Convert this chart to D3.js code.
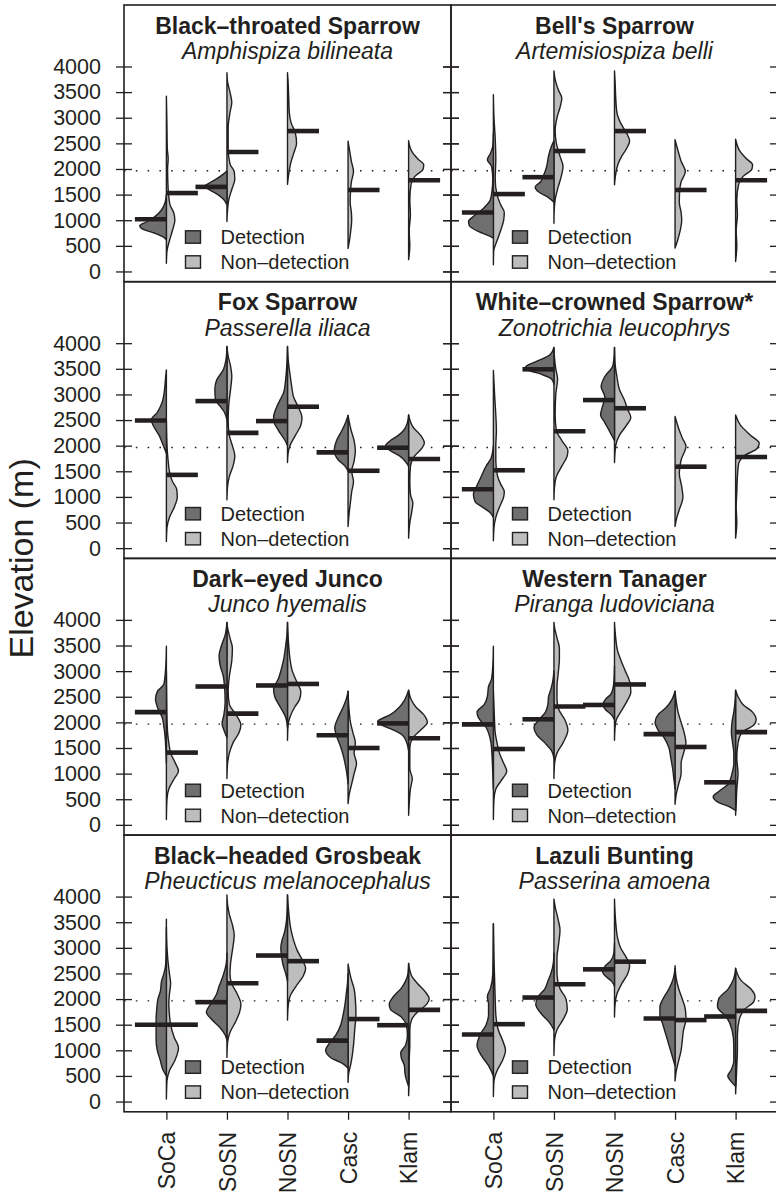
<!DOCTYPE html>
<html>
<head>
<meta charset="utf-8">
<script src="https://cdn.jsdelivr.net/npm/d3@7"></script>
<style>
  body { margin: 0; background: #fff; }
  svg { display: block; }
  text { font-family: "Liberation Sans", Arial, Helvetica, sans-serif; fill: #231f20; }
</style>
</head>
<body>
<svg id="chart" width="776" height="1195"></svg>
<script>
// ---- data ----------------------------------------------------------------
const regions = ["SoCa", "SoSN", "NoSN", "Casc", "Klam"];
const commonNames = ["Black–throated Sparrow", "Bell's Sparrow", "Fox Sparrow", "White–crowned Sparrow*",
  "Dark–eyed Junco", "Western Tanager", "Black–headed Grosbeak", "Lazuli Bunting"];
const latinNames = ["Amphispiza bilineata", "Artemisiospiza belli", "Passerella iliaca", "Zonotrichia leucophrys",
  "Junco hyemalis", "Piranga ludoviciana", "Pheucticus melanocephalus", "Passerina amoena"];
const elevTicks = [0, 500, 1000, 1500, 2000, 2500, 3000, 3500, 4000];
const referenceElevation = 1965;
const legendLabels = ["Detection", "Non–detection"];

// median elevation (m) of sites, per species x region
const detMedians = [
  [1020, 1650, null, null, null],
  [1150, 1840, null, null, null],
  [2490, 2870, 2480, 1870, 1960],
  [1150, 3490, 2890, null, null],
  [2200, 2700, 2720, 1750, 1980],
  [1960, 2060, 2340, 1770, 830],
  [1500, 1940, 2850, 1190, 1490],
  [1310, 2030, 2580, 1620, 1660]
];
const nonMedians = [
  [1530, 2330, 2740, 1590, 1780],
  [1510, 2350, 2740, 1590, 1780],
  [1430, 2250, 2760, 1510, 1740],
  [1520, 2280, 2730, 1590, 1780],
  [1410, 2170, 2750, 1500, 1690],
  [1480, 2310, 2740, 1520, 1810],
  [1500, 2310, 2740, 1610, 1790],
  [1510, 2290, 2730, 1590, 1770]
];

// density profiles: [elevation (m), half-width (region units)], one per region
const btspDet = [
  [[620,0],[680,0.06],[750,0.2],[830,0.4],[890,0.44],[960,0.34],[1070,0.19],[1200,0.08],[1350,0.02],[1500,0]],
  [[1300,0],[1400,0.05],[1500,0.15],[1600,0.3],[1660,0.38],[1720,0.3],[1800,0.18],[1900,0.06],[1960,0]],
  [], [], []
];
const btspNon = [
  [[160,0],[400,0.01],[600,0.05],[800,0.1],[1000,0.14],[1150,0.12],[1300,0.06],[1600,0.03],[2000,0.02],[2200,0.03],[2400,0.015],[2800,0.01],[3420,0]],
  [[975,0],[1200,0.01],[1400,0.03],[1600,0.08],[1800,0.13],[1950,0.12],[2100,0.05],[2400,0.02],[2800,0.02],[3100,0.05],[3300,0.08],[3500,0.05],[3700,0.01],[3880,0]],
  [[1700,0],[1900,0.02],[2100,0.05],[2300,0.1],[2500,0.15],[2700,0.13],[2900,0.06],[3100,0.03],[3400,0.02],[3700,0.01],[3880,0]],
  [[450,0],[600,0.023],[800,0.045],[1000,0.06],[1150,0.055],[1350,0.035],[1550,0.04],[1750,0.055],[1950,0.09],[2150,0.055],[2350,0.027],[2540,0]],
  [[230,0],[500,0.02],[800,0.01],[1100,0.03],[1400,0.02],[1700,0.04],[1850,0.1],[2000,0.24],[2080,0.25],[2200,0.15],[2350,0.05],[2550,0]]
];
const bespDet = [
  [[650,0],[700,0.08],[780,0.25],[900,0.4],[980,0.41],[1100,0.3],[1250,0.15],[1400,0.05],[1600,0.02],[1800,0.01],[2050,0.03],[2180,0.1],[2300,0.05],[2450,0.01],[2700,0]],
  [[1350,0],[1450,0.1],[1550,0.25],[1650,0.31],[1750,0.22],[1850,0.18],[2050,0.12],[2250,0.09],[2450,0.04],[2550,0]],
  [], [], []
];
const bespNon = [
  [[130,0],[400,0.005],[600,0.06],[800,0.12],[1000,0.17],[1150,0.18],[1300,0.12],[1500,0.06],[1800,0.03],[2200,0.04],[2600,0.03],[3000,0.01],[3450,0]],
  [[940,0],[1200,0.005],[1400,0.02],[1650,0.07],[1850,0.12],[2050,0.15],[2250,0.1],[2500,0.04],[2750,0.02],[3000,0.05],[3200,0.1],[3380,0.13],[3550,0.07],[3750,0.02],[3915,0]],
  [[1690,0],[1900,0.02],[2100,0.06],[2250,0.12],[2400,0.2],[2550,0.25],[2700,0.2],[2900,0.1],[3100,0.04],[3400,0.02],[3700,0.01],[3915,0]],
  [[455,0],[600,0.04],[800,0.085],[1000,0.11],[1150,0.1],[1350,0.07],[1550,0.075],[1750,0.1],[1950,0.17],[2150,0.1],[2350,0.05],[2570,0]],
  [[195,0],[500,0.02],[800,0.01],[1100,0.03],[1400,0.02],[1700,0.05],[1850,0.12],[2000,0.27],[2080,0.28],[2200,0.18],[2350,0.07],[2580,0]]
];
const fospDet = [
  [[1850,0],[2000,0.05],[2200,0.12],[2400,0.22],[2500,0.25],[2650,0.15],[2850,0.07],[3100,0.03],[3300,0.015],[3480,0]],
  [[2500,0],[2650,0.04],[2780,0.12],[2900,0.19],[3100,0.2],[3280,0.17],[3480,0.06],[3650,0.02],[3800,0.005],[3935,0]],
  [[2000,0],[2100,0.04],[2300,0.15],[2450,0.22],[2550,0.23],[2750,0.18],[2900,0.12],[3050,0.06],[3300,0.03],[3600,0.01],[3935,0]],
  [[1500,0],[1600,0.05],[1720,0.16],[1900,0.23],[2100,0.19],[2300,0.1],[2450,0.04],[2589,0]],
  [[1600,0],[1700,0.06],[1800,0.15],[1900,0.3],[2000,0.38],[2100,0.3],[2200,0.17],[2300,0.08],[2450,0.02],[2600,0]]
];
const fospNon = [
  [[130,0],[400,0.01],[600,0.05],[800,0.13],[1000,0.18],[1150,0.17],[1300,0.1],[1500,0.05],[1700,0.03],[1900,0.015],[2200,0.005],[2500,0]],
  [[943,0],[1200,0.01],[1400,0.04],[1600,0.1],[1800,0.13],[2000,0.09],[2200,0.04],[2500,0.02],[2800,0.03],[3100,0.06],[3350,0.08],[3550,0.06],[3750,0.02],[3935,0]],
  [[1670,0],[1850,0.01],[2000,0.04],[2200,0.13],[2400,0.22],[2550,0.24],[2750,0.18],[2950,0.1],[3150,0.07],[3400,0.04],[3700,0.01],[3935,0]],
  [[423,0],[700,0.02],[900,0.04],[1100,0.06],[1300,0.09],[1500,0.06],[1700,0.1],[1900,0.12],[2100,0.1],[2300,0.05],[2589,0]],
  [[195,0],[500,0.02],[700,0.05],[880,0.07],[1050,0.03],[1300,0.02],[1600,0.03],[1800,0.1],[1950,0.22],[2050,0.26],[2200,0.2],[2350,0.08],[2600,0]]
];
const wcspDet = [
  [[600,0],[700,0.06],[800,0.18],[900,0.3],[1050,0.33],[1200,0.28],[1350,0.22],[1600,0.12],[1750,0.04],[1900,0.01],[2000,0]],
  [[3200,0],[3300,0.04],[3400,0.22],[3500,0.48],[3560,0.45],[3650,0.28],[3780,0.06],[3915,0]],
  [[2100,0],[2280,0.08],[2470,0.17],[2600,0.23],[2800,0.19],[2950,0.16],[3150,0.22],[3350,0.16],[3550,0.03],[3700,0.01],[3915,0]],
  [], []
];
const wcspNon = [
  [[143,0],[400,0.01],[600,0.04],[800,0.1],[1000,0.17],[1100,0.18],[1250,0.12],[1400,0.07],[1700,0.04],[2000,0.04],[2300,0.05],[2600,0.04],[3000,0.02],[3467,0]],
  [[943,0],[1200,0.01],[1400,0.04],[1600,0.13],[1800,0.22],[1900,0.23],[2100,0.13],[2300,0.04],[2600,0.02],[3000,0.03],[3300,0.06],[3500,0.03],[3700,0.01],[3915,0]],
  [[1672,0],[2000,0.02],[2200,0.08],[2400,0.2],[2550,0.27],[2700,0.22],[2900,0.16],[3100,0.08],[3350,0.04],[3600,0.01],[3915,0]],
  [[423,0],[600,0.03],[750,0.07],[1000,0.13],[1200,0.11],[1460,0.07],[1720,0.1],[1990,0.18],[2150,0.12],[2300,0.07],[2569,0]],
  [[195,0],[500,0.02],[800,0.01],[1100,0.02],[1400,0.03],[1650,0.05],[1800,0.14],[1950,0.36],[2050,0.39],[2200,0.25],[2400,0.08],[2600,0]]
];
const dejuDet = [
  [[1200,0],[1500,0.01],[1700,0.02],[1900,0.04],[2100,0.07],[2300,0.15],[2450,0.18],[2600,0.15],[2750,0.04],[3100,0.01],[3485,0]],
  [[1700,0],[1850,0.05],[1980,0.08],[2150,0.05],[2400,0.03],[2700,0.04],[2900,0.06],[3100,0.11],[3300,0.13],[3500,0.09],[3700,0.03],[3952,0]],
  [[1900,0],[2100,0.03],[2300,0.12],[2500,0.21],[2650,0.23],[2850,0.15],[3050,0.1],[3250,0.06],[3500,0.03],[3700,0.01],[3952,0]],
  [[800,0],[1000,0.02],[1200,0.05],[1400,0.09],[1550,0.13],[1700,0.18],[1900,0.22],[2100,0.16],[2300,0.08],[2450,0.03],[2606,0]],
  [[1450,0],[1600,0.03],[1750,0.1],[1850,0.25],[1950,0.45],[2020,0.51],[2150,0.3],[2300,0.15],[2450,0.06],[2626,0]]
];
const dejuNon = [
  [[103,0],[500,0.01],[700,0.04],[900,0.13],[1050,0.2],[1200,0.15],[1400,0.07],[1600,0.04],[1800,0.02],[2100,0.01],[2500,0.005],[3000,0]],
  [[903,0],[1200,0.01],[1400,0.04],[1600,0.1],[1800,0.2],[1950,0.23],[2150,0.15],[2350,0.04],[2600,0.02],[2900,0.04],[3200,0.08],[3450,0.09],[3650,0.05],[3850,0.01],[3952,0]],
  [[1650,0],[1950,0.01],[2100,0.04],[2300,0.12],[2450,0.2],[2600,0.22],[2800,0.15],[3000,0.08],[3250,0.04],[3500,0.02],[3800,0.005],[3952,0]],
  [[415,0],[600,0.02],[800,0.06],[1000,0.1],[1200,0.14],[1400,0.1],[1600,0.12],[1800,0.08],[2000,0.04],[2200,0.02],[2606,0]],
  [[187,0],[400,0.01],[700,0.03],[900,0.06],[1100,0.02],[1500,0.02],[1700,0.07],[1850,0.2],[2000,0.31],[2150,0.25],[2300,0.12],[2450,0.04],[2626,0]]
];
const wetaDet = [
  [[700,0],[1000,0.01],[1300,0.02],[1600,0.04],[1900,0.12],[2100,0.25],[2200,0.27],[2350,0.15],[2500,0.1],[2700,0.08],[2850,0.03],[3100,0.01],[3485,0]],
  [[1300,0],[1450,0.04],[1600,0.15],[1750,0.28],[1900,0.33],[2050,0.25],[2200,0.14],[2350,0.1],[2500,0.09],[2650,0.05],[2800,0.02],[3000,0]],
  [[2050,0],[2150,0.05],[2250,0.15],[2350,0.19],[2450,0.15],[2550,0.06],[2700,0.02],[2900,0.005],[3100,0]],
  [[700,0],[900,0.02],[1100,0.04],[1300,0.07],[1500,0.1],[1700,0.18],[1850,0.28],[2000,0.33],[2150,0.28],[2300,0.14],[2450,0.05],[2606,0]],
  [[280,0],[350,0.1],[450,0.3],[550,0.37],[650,0.28],[800,0.12],[1000,0.06],[1200,0.03],[1400,0.03],[1600,0.05],[1800,0.07],[2000,0.06],[2200,0.03],[2400,0.01],[2626,0]]
];
const wetaNon = [
  [[103,0],[500,0.01],[700,0.04],[850,0.12],[1050,0.22],[1200,0.17],[1400,0.1],[1600,0.06],[1800,0.03],[2000,0.02],[2300,0.01],[2600,0]],
  [[903,0],[1200,0.01],[1400,0.05],[1600,0.15],[1850,0.23],[2050,0.18],[2250,0.08],[2450,0.05],[2700,0.05],[2950,0.07],[3250,0.09],[3450,0.09],[3650,0.05],[3850,0.01],[3952,0]],
  [[1650,0],[1900,0.01],[2050,0.03],[2200,0.1],[2400,0.2],[2600,0.27],[2800,0.25],[3000,0.18],[3200,0.11],[3400,0.05],[3650,0.02],[3952,0]],
  [[402,0],[600,0.02],[800,0.06],[1000,0.1],[1200,0.1],[1400,0.14],[1600,0.18],[1800,0.15],[2000,0.1],[2200,0.05],[2400,0.02],[2606,0]],
  [[187,0],[400,0.01],[700,0.02],[1000,0.04],[1300,0.02],[1600,0.04],[1800,0.1],[1950,0.3],[2050,0.34],[2200,0.28],[2350,0.12],[2500,0.04],[2626,0]]
];
const bhgrDet = [
  [[500,0],[600,0.05],[800,0.1],[1000,0.15],[1200,0.17],[1400,0.17],[1600,0.17],[1800,0.16],[2000,0.14],[2150,0.1],[2350,0.08],[2500,0.04],[2700,0.01],[3100,0.003],[3561,0]],
  [[1200,0],[1300,0.03],[1450,0.12],[1600,0.25],[1750,0.34],[1900,0.27],[2100,0.17],[2250,0.13],[2400,0.08],[2550,0.04],[2700,0.01],[2900,0]],
  [[2350,0],[2500,0.03],[2650,0.07],[2850,0.1],[3000,0.11],[3150,0.09],[3300,0.05],[3500,0.02],[3750,0.005],[4030,0]],
  [[650,0],[750,0.1],[850,0.28],[1000,0.37],[1150,0.3],[1300,0.2],[1500,0.12],[1700,0.08],[1900,0.05],[2100,0.03],[2300,0.01],[2500,0]],
  [[300,0],[400,0.03],[550,0.06],[700,0.07],[850,0.12],[950,0.13],[1100,0.05],[1300,0.02],[1500,0.04],[1650,0.12],[1800,0.3],[1900,0.32],[2050,0.25],[2200,0.13],[2350,0.05],[2500,0.01],[2696,0]]
];
const bhgrNon = [
  [[49,0],[400,0.01],[600,0.05],[800,0.14],[1050,0.2],[1250,0.13],[1500,0.07],[1700,0.05],[1900,0.04],[2100,0.05],[2300,0.07],[2500,0.05],[2700,0.03],[3000,0.01],[3400,0]],
  [[862,0],[1150,0.01],[1350,0.05],[1550,0.14],[1750,0.21],[1900,0.23],[2100,0.17],[2300,0.08],[2500,0.05],[2700,0.06],[2950,0.09],[3250,0.12],[3450,0.09],[3650,0.04],[3850,0.01],[4030,0]],
  [[1590,0],[1850,0.01],[2050,0.04],[2250,0.14],[2450,0.26],[2600,0.3],[2750,0.25],[2950,0.16],[3150,0.1],[3400,0.05],[3700,0.02],[4030,0]],
  [[374,0],[550,0.01],[700,0.04],[900,0.07],[1100,0.09],[1400,0.11],[1700,0.13],[2000,0.12],[2200,0.1],[2400,0.05],[2683,0]],
  [[115,0],[500,0.01],[800,0.01],[1100,0.02],[1400,0.02],[1600,0.05],[1750,0.15],[1900,0.3],[2000,0.34],[2150,0.27],[2300,0.15],[2450,0.05],[2696,0]]
];
const lazbDet = [
  [[500,0],[700,0.08],[900,0.2],[1100,0.27],[1300,0.22],[1500,0.12],[1700,0.08],[1900,0.08],[2050,0.1],[2200,0.05],[2500,0.01],[3470,0]],
  [[1400,0],[1550,0.08],[1700,0.2],[1900,0.3],[2050,0.26],[2200,0.15],[2350,0.1],[2500,0.05],[2700,0.01],[2900,0]],
  [[2250,0],[2350,0.05],[2450,0.15],[2550,0.2],[2650,0.15],[2750,0.06],[2900,0.01],[3100,0]],
  [[700,0],[900,0.05],[1100,0.1],[1300,0.15],[1500,0.2],[1700,0.25],[1850,0.25],[2000,0.2],[2200,0.1],[2400,0.03],[2600,0]],
  [[300,0],[400,0.08],[500,0.13],[600,0.08],[800,0.03],[1100,0.03],[1400,0.06],[1650,0.15],[1850,0.3],[2000,0.28],[2200,0.12],[2400,0.03],[2600,0]]
];
const lazbNon = [
  [[100,0],[400,0.01],[600,0.06],[800,0.15],[1000,0.2],[1200,0.15],[1400,0.08],[1700,0.04],[2000,0.03],[2400,0.02],[2800,0.01],[3470,0]],
  [[900,0],[1200,0.01],[1400,0.05],[1600,0.15],[1800,0.22],[2000,0.2],[2200,0.1],[2500,0.05],[2800,0.05],[3100,0.08],[3350,0.1],[3550,0.07],[3800,0.02],[3950,0]],
  [[1650,0],[1900,0.01],[2100,0.04],[2300,0.12],[2500,0.22],[2650,0.25],[2800,0.2],[3000,0.1],[3200,0.05],[3500,0.02],[3950,0]],
  [[400,0],[600,0.02],[800,0.06],[1000,0.1],[1200,0.12],[1400,0.14],[1600,0.18],[1800,0.17],[2000,0.12],[2200,0.06],[2400,0.02],[2650,0]],
  [[150,0],[400,0.01],[700,0.02],[1000,0.03],[1300,0.03],[1600,0.06],[1800,0.15],[1950,0.3],[2050,0.32],[2200,0.25],[2350,0.1],[2600,0]]
];

const detProfiles = [btspDet, bespDet, fospDet, wcspDet, dejuDet, wetaDet, bhgrDet, lazbDet];
const nonProfiles = [btspNon, bespNon, fospNon, wcspNon, dejuNon, wetaNon, bhgrNon, lazbNon];

// ---- layout ----------------------------------------------------------------
const panelW = 327, panelH = 276.7;
const colX = [124, 451], top0 = 5;
const ink = "#231f20", darkFill = "#6f6f6f", lightFill = "#bdbdbd";
const baseFont = "21.5px";

const svg = d3.select("#chart");
const x = d3.scaleLinear().domain([0.3, 5.7]).range([0, panelW]);
const y = d3.scaleLinear().domain([-200, 5200]).range([panelH, 0]);
const positions = regions.map((_, i) => i + 1);

function halfViolin(profile, pos, side) {
  return d3.area()
    .curve(d3.curveMonotoneY)
    .y(d => y(d[0]))
    .x0(x(pos))
    .x1(d => x(pos + side * d[1]))(profile);
}

commonNames.forEach((name, s) => {
  const col = s % 2, row = Math.floor(s / 2);
  const g = svg.append("g").attr("transform", `translate(${colX[col]},${top0 + row * panelH})`);

  // reference elevation
  g.append("line")
    .attr("x1", 0).attr("x2", panelW)
    .attr("y1", y(referenceElevation)).attr("y2", y(referenceElevation))
    .attr("stroke", ink).attr("stroke-width", 1.4)
    .attr("stroke-dasharray", "1.6,10.2");

  // split violins
  positions.forEach((pos, r) => {
    const det = detProfiles[s][r], non = nonProfiles[s][r];
    if (non.length) {
      g.append("path").attr("d", halfViolin(non, pos, 1))
        .attr("fill", lightFill).attr("stroke", ink).attr("stroke-width", 1.4)
        .attr("stroke-linejoin", "round");
    }
    if (det.length) {
      g.append("path").attr("d", halfViolin(det, pos, -1))
        .attr("fill", darkFill).attr("stroke", ink).attr("stroke-width", 1.4)
        .attr("stroke-linejoin", "round");
    }
  });

  // medians
  positions.forEach((pos, r) => {
    const dm = detMedians[s][r], nm = nonMedians[s][r];
    if (dm != null) {
      g.append("line").attr("x1", x(pos - 0.52)).attr("x2", x(pos))
        .attr("y1", y(dm)).attr("y2", y(dm))
        .attr("stroke", ink).attr("stroke-width", 4.6);
    }
    if (nm != null) {
      g.append("line").attr("x1", x(pos)).attr("x2", x(pos + 0.52))
        .attr("y1", y(nm)).attr("y2", y(nm))
        .attr("stroke", ink).attr("stroke-width", 4.6);
    }
  });

  // frame
  g.append("rect").attr("width", panelW).attr("height", panelH)
    .attr("fill", "none").attr("stroke", ink).attr("stroke-width", 1.6);

  // elevation ticks crossing both side frames
  const styleAxis = a => {
    a.select(".domain").remove();
    a.selectAll("line").attr("stroke", ink).attr("stroke-width", 1.3);
    a.selectAll("text").attr("fill", ink)
      .style("font-family", '"Liberation Sans", Arial, sans-serif').style("font-size", baseFont);
  };
  g.append("g").call(d3.axisLeft(y).tickValues(elevTicks).tickSize(8).tickPadding(15)
    .tickFormat(col === 0 ? d3.format("d") : () => "")).call(styleAxis);
  g.append("g").call(d3.axisRight(y).tickValues(elevTicks).tickSize(8).tickFormat(() => "")).call(styleAxis);
  g.append("g").attr("transform", `translate(${panelW},0)`)
    .call(d3.axisLeft(y).tickValues(elevTicks).tickSize(8).tickFormat(() => "")).call(styleAxis);
  g.append("g").attr("transform", `translate(${panelW},0)`)
    .call(d3.axisRight(y).tickValues(elevTicks).tickSize(8).tickFormat(() => "")).call(styleAxis);

  // region axis on bottom row
  if (row === 3) {
    const ax = g.append("g").attr("transform", `translate(0,${panelH})`)
      .call(d3.axisBottom(x).tickValues(positions).tickSize(8).tickFormat(d => regions[d - 1]))
      .call(styleAxis);
    ax.selectAll("text")
      .attr("transform", "rotate(-90)")
      .attr("x", -20).attr("y", 0).attr("dy", "0.36em")
      .style("text-anchor", "end").style("font-size", "23px");
  }

  // titles
  g.append("text").attr("x", panelW / 2).attr("y", 28.5)
    .attr("text-anchor", "middle").style("font-weight", "bold").style("font-size", "23px")
    .text(name);
  g.append("text").attr("x", panelW / 2).attr("y", 54)
    .attr("text-anchor", "middle").style("font-style", "italic").style("font-size", "23px")
    .text(latinNames[s]);

  // legend
  const lg = g.append("g").attr("transform", "translate(61.5,232)");
  [darkFill, lightFill].forEach((fill, i) => {
    lg.append("rect").attr("x", 0).attr("y", i * 25 - 6.2).attr("width", 15).attr("height", 12.4)
      .attr("fill", fill).attr("stroke", ink).attr("stroke-width", 1.4);
    lg.append("text").attr("x", 35).attr("y", i * 25 + 7.3)
      .style("font-size", "20px").text(legendLabels[i]);
  });
});

// shared axis title
svg.append("text")
  .attr("transform", `translate(33,${top0 + 2 * panelH}) rotate(-90)`)
  .attr("text-anchor", "middle").style("font-size", "34px")
  .text("Elevation (m)");
</script>
</body>
</html>
